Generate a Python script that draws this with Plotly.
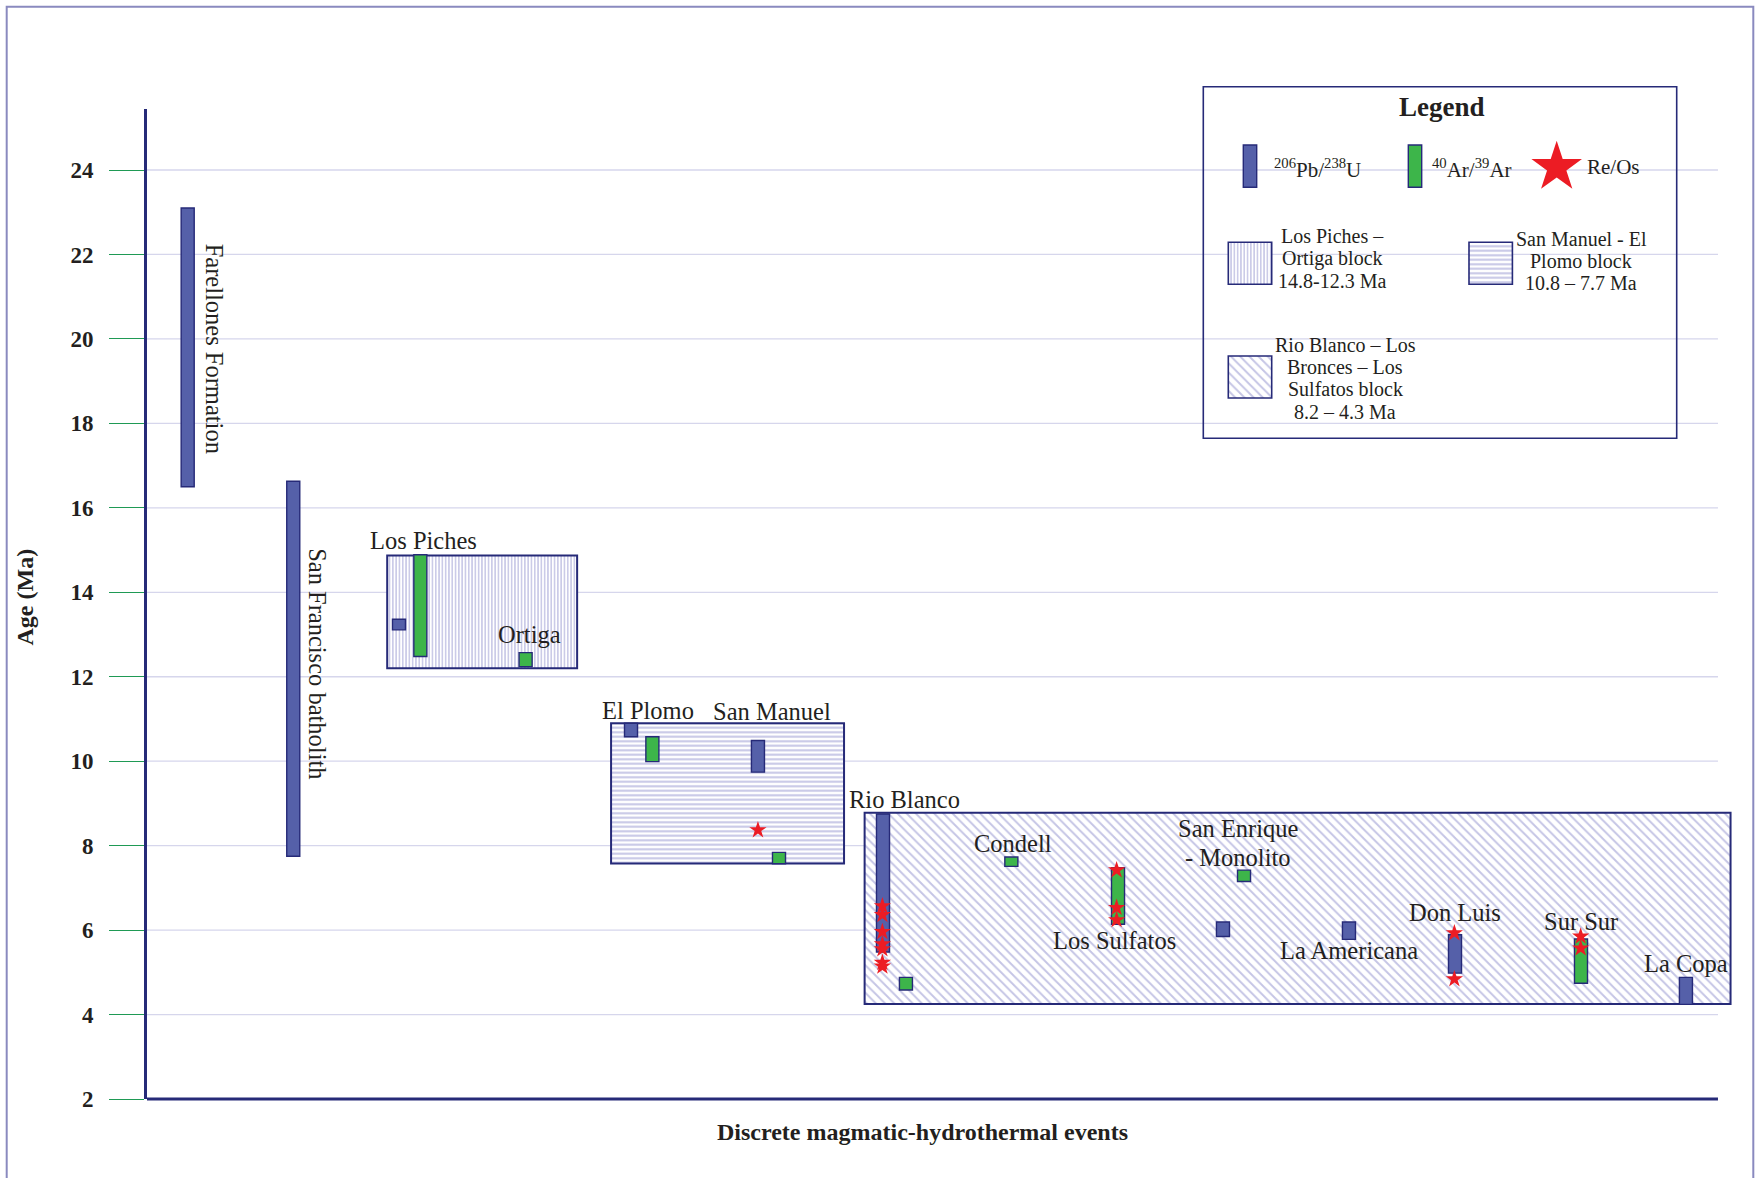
import plotly.graph_objects as go

# ---------------- data ----------------
# 206Pb/238U age ranges (Ma) per event, x = position along the event axis
pb_names = ["Farellones Formation", "San Francisco batholith", "Los Piches", "El Plomo",
            "San Manuel", "Rio Blanco", "San Enrique - Monolito", "La Americana",
            "Don Luis", "La Copa"]
pb_pos = [2.59, 9.31, 16.04, 30.81, 38.89, 46.85, 68.49, 76.51, 83.26, 97.96]
pb_min = [16.50, 7.75, 13.11, 10.58, 9.74, 5.48, 5.85, 5.78, 4.98, 4.24]
pb_max = [23.10, 16.63, 13.36, 10.90, 10.49, 8.75, 6.19, 6.19, 5.89, 4.88]

# 40Ar/39Ar age ranges (Ma)
ar_names = ["Los Piches", "Ortiga", "El Plomo", "San Manuel", "Rio Blanco", "Condell",
            "Los Sulfatos", "San Enrique - Monolito", "Sur Sur"]
ar_pos = [17.40, 24.10, 32.17, 40.23, 48.31, 55.02, 61.81, 69.83, 91.28]
ar_min = [12.48, 12.24, 9.99, 7.57, 4.58, 7.51, 6.14, 7.15, 4.74]
ar_max = [14.89, 12.57, 10.58, 7.84, 4.88, 7.73, 7.48, 7.42, 5.79]

# Re/Os molybdenite ages (Ma)
reos_pos = [38.89,
            46.81, 46.81, 46.81, 46.81, 46.81, 46.81, 46.81,
            61.72, 61.72, 61.72,
            83.22, 83.22,
            91.26, 91.26]
reos_age = [8.37,
            6.57, 6.36, 5.96, 5.67, 5.55, 5.23, 5.14,
            7.42, 6.53, 6.24,
            5.93, 4.84,
            5.85, 5.57]

# Structural blocks (extent along event axis and age span)
block_names = ["Los Piches - Ortiga", "San Manuel - El Plomo",
               "Rio Blanco - Los Bronces - Los Sulfatos"]
block_left = [15.29, 29.54, 45.68]
block_right = [27.38, 44.37, 100.80]
block_min = [12.20, 7.58, 4.25]
block_max = [14.87, 10.90, 8.78]

# Event labels: text, position, age, rotation
label_text = ["Farellones Formation", "San Francisco batholith", "Los Piches", "Ortiga",
              "El Plomo", "San Manuel", "Rio Blanco", "Condell", "San Enrique",
              "- Monolito", "Los Sulfatos", "La Americana", "Don Luis", "Sur Sur", "La Copa"]
label_x = [4.30, 10.88, 17.63, 24.32, 31.89, 39.76, 48.19, 55.12, 69.47,
           69.47, 61.60, 76.52, 83.27, 91.30, 97.95]
label_y = [19.78, 12.30, 15.22, 13.01, 11.20, 11.17, 9.10, 8.05, 8.41,
           7.71, 5.76, 5.51, 6.41, 6.20, 5.20]
label_angle = [90, 90, 0, 0, 0, 0, 0, 0, 0, 0, 0, 0, 0, 0, 0]

age_ticks = [2, 4, 6, 8, 10, 12, 14, 16, 18, 20, 22, 24]

legend_blocks = [["Los Piches \u2013", "Ortiga block", "14.8-12.3 Ma"],
                 ["San Manuel - El", "Plomo block", "10.8 \u2013 7.7 Ma"],
                 ["Rio Blanco \u2013 Los", "Bronces \u2013 Los", "Sulfatos block",
                  "8.2 \u2013 4.3 Ma"]]

# ---------------- styling ----------------
W, H = 1755, 1178
ML, MR, MT, MB = 147, 10, 109, 79
PW, PH = W - ML - MR, H - MT - MB
Y_RANGE = [2, 25.445]
X_RANGE = [0, 101.72]
X_AXIS_END = 100

NAVY = "#262a78"
BLUE = "#5560a9"
GREEN = "#3db54a"
RED = "#ec1c24"
HATCH = "#8b8bcb"
GRID = "#d6d6ec"
TICK_GREEN = "#1f9a55"
TEXT = "#231f20"
SERIF = "Liberation Serif"
BAR_W = 0.83

block_patterns = [dict(shape="|", size=3.3, solidity=0.45),
                  dict(shape="-", size=4.5, solidity=0.45),
                  dict(shape="\\", size=6.5, solidity=0.3)]


def paper_x(p):
    return (p - ML) / PW


def paper_y(p):
    return (H - MB - p) / PH


fig = go.Figure()

# structural blocks (hatched)
for i in range(len(block_names)):
    pat = block_patterns[i]
    fig.add_trace(go.Bar(
        x=[(block_left[i] + block_right[i]) / 2],
        y=[block_max[i] - block_min[i]], base=[block_min[i]],
        width=[block_right[i] - block_left[i]],
        marker=dict(color="white", line=dict(color=NAVY, width=2),
                    pattern=dict(shape=pat["shape"], size=pat["size"],
                                 solidity=pat["solidity"], fgcolor=HATCH,
                                 fillmode="overlay")),
        name=block_names[i], showlegend=False, hoverinfo="skip"))

# U-Pb bars
fig.add_trace(go.Bar(
    x=pb_pos, y=[b - a for a, b in zip(pb_min, pb_max)], base=pb_min,
    width=BAR_W, marker=dict(color=BLUE, line=dict(color=NAVY, width=1.4)),
    hovertext=pb_names, showlegend=False))

# Ar-Ar bars
fig.add_trace(go.Bar(
    x=ar_pos, y=[b - a for a, b in zip(ar_min, ar_max)], base=ar_min,
    width=BAR_W, marker=dict(color=GREEN, line=dict(color=NAVY, width=1.4)),
    hovertext=ar_names, showlegend=False))

# Re-Os stars
fig.add_trace(go.Scatter(
    x=reos_pos, y=reos_age, mode="markers",
    marker=dict(symbol="star", size=13, color=RED, line=dict(width=0)),
    showlegend=False))

# ---- legend drawn on a pixel-based overlay axis ----
fig.add_trace(go.Bar(
    x=[1250.0, 1415.0], y=[42.3, 42.3], base=[145.0, 145.0], width=13.4,
    marker=dict(color=[BLUE, GREEN], line=dict(color=NAVY, width=1.4)),
    xaxis="x2", yaxis="y2", showlegend=False, hoverinfo="skip"))
sw_cx = [1250.0, 1490.7, 1250.0]
sw_top = [242.3, 242.3, 356.0]
for i in range(3):
    pat = block_patterns[i]
    fig.add_trace(go.Bar(
        x=[sw_cx[i]], y=[42.0], base=[sw_top[i]], width=43.4,
        marker=dict(color="white", line=dict(color=NAVY, width=1.6),
                    pattern=dict(shape=pat["shape"], size=pat["size"],
                                 solidity=pat["solidity"], fgcolor=HATCH,
                                 fillmode="overlay")),
        xaxis="x2", yaxis="y2", showlegend=False, hoverinfo="skip"))
fig.add_trace(go.Scatter(
    x=[1556.7], y=[167.3], mode="markers",
    marker=dict(symbol="star", size=38, color=RED, line=dict(width=0)),
    xaxis="x2", yaxis="y2", showlegend=False, hoverinfo="skip"))

annotations = []
for t, x, y, a in zip(label_text, label_x, label_y, label_angle):
    annotations.append(dict(text=t, x=x, y=y, xref="x", yref="y", showarrow=False,
                            textangle=a, xanchor="center", yanchor="middle",
                            font=dict(family=SERIF, size=24.5, color=TEXT)))

leg_font = dict(family=SERIF, size=21, color=TEXT)
annotations += [
    dict(text="Legend", x=paper_x(1441.7), y=paper_y(106.7), xref="paper", yref="paper",
         xanchor="center", yanchor="middle", showarrow=False,
         font=dict(family=SERIF, size=27, color=TEXT, weight="bold")),
    dict(text="<sup>206</sup>Pb/<sup>238</sup>U", x=1317.4, y=168, xref="x2", yref="y2",
         xanchor="center", yanchor="middle", showarrow=False, font=leg_font),
    dict(text="<sup>40</sup>Ar/<sup>39</sup>Ar", x=1472.3, y=168, xref="x2", yref="y2",
         xanchor="center", yanchor="middle", showarrow=False, font=leg_font),
    dict(text="Re/Os", x=1613.3, y=167, xref="x2", yref="y2", showarrow=False,
         xanchor="center", yanchor="middle", font=leg_font),
]
leg_cx = [1332.3, 1581.3, 1345.0]
leg_y0 = [236.0, 239.2, 345.0]
leg_dy = [22.6, 21.7, 22.2]
for k, lines in enumerate(legend_blocks):
    for j, line in enumerate(lines):
        annotations.append(dict(text=line, x=leg_cx[k], y=leg_y0[k] + j * leg_dy[k],
                                xref="x2", yref="y2", showarrow=False,
                                xanchor="center", yanchor="middle",
                                font=dict(family=SERIF, size=20, color=TEXT)))

# axis titles
annotations += [
    dict(text="Age (Ma)", x=paper_x(24), y=paper_y(597.5), xref="paper", yref="paper",
         xanchor="center", yanchor="middle", showarrow=False, textangle=-90,
         font=dict(family=SERIF, size=24, color=TEXT, weight="bold")),
    dict(text="Discrete magmatic-hydrothermal events", x=paper_x(922.5), y=paper_y(1132),
         xref="paper", yref="paper", xanchor="center", yanchor="middle", showarrow=False,
         font=dict(family=SERIF, size=24, color=TEXT, weight="bold")),
]

shapes = []
# horizontal grid lines
for v in age_ticks[1:]:
    shapes.append(dict(type="line", xref="x", yref="y", x0=0, x1=X_AXIS_END, y0=v, y1=v,
                       line=dict(color=GRID, width=1.3), layer="below"))
# x axis line
shapes.append(dict(type="line", xref="x", yref="paper", x0=0, x1=X_AXIS_END, y0=0, y1=0,
                   line=dict(color=NAVY, width=3.2)))
# legend frame
shapes.append(dict(type="rect", xref="paper", yref="paper",
                   x0=paper_x(1203.3), x1=paper_x(1676.7),
                   y0=paper_y(438.3), y1=paper_y(86.7),
                   line=dict(color=NAVY, width=1.6)))
# outer frame
shapes.append(dict(type="rect", xref="paper", yref="paper",
                   x0=paper_x(6.7), x1=paper_x(1753.3),
                   y0=paper_y(1195), y1=paper_y(6.7),
                   line=dict(color="#8a8abf", width=2)))

fig.update_layout(
    width=W, height=H,
    margin=dict(l=ML, r=MR, t=MT, b=MB, pad=0),
    paper_bgcolor="white", plot_bgcolor="white",
    barmode="overlay",
    showlegend=False,
    xaxis=dict(range=X_RANGE, visible=False, fixedrange=True),
    yaxis=dict(range=Y_RANGE, tickvals=age_ticks, ticks="outside", ticklen=35,
               tickwidth=1.3, tickcolor=TICK_GREEN, showline=True, linecolor=NAVY,
               linewidth=3, showgrid=False, zeroline=False, ticklabelstandoff=11,
               tickfont=dict(family=SERIF, size=23, color=TEXT, weight="bold")),
    xaxis2=dict(range=[ML, W - MR], overlaying="x", visible=False, anchor="y2"),
    yaxis2=dict(range=[H - MB, MT], overlaying="y", visible=False, anchor="x2"),
    annotations=annotations,
    shapes=shapes,
)

fig.write_html("out.html")
